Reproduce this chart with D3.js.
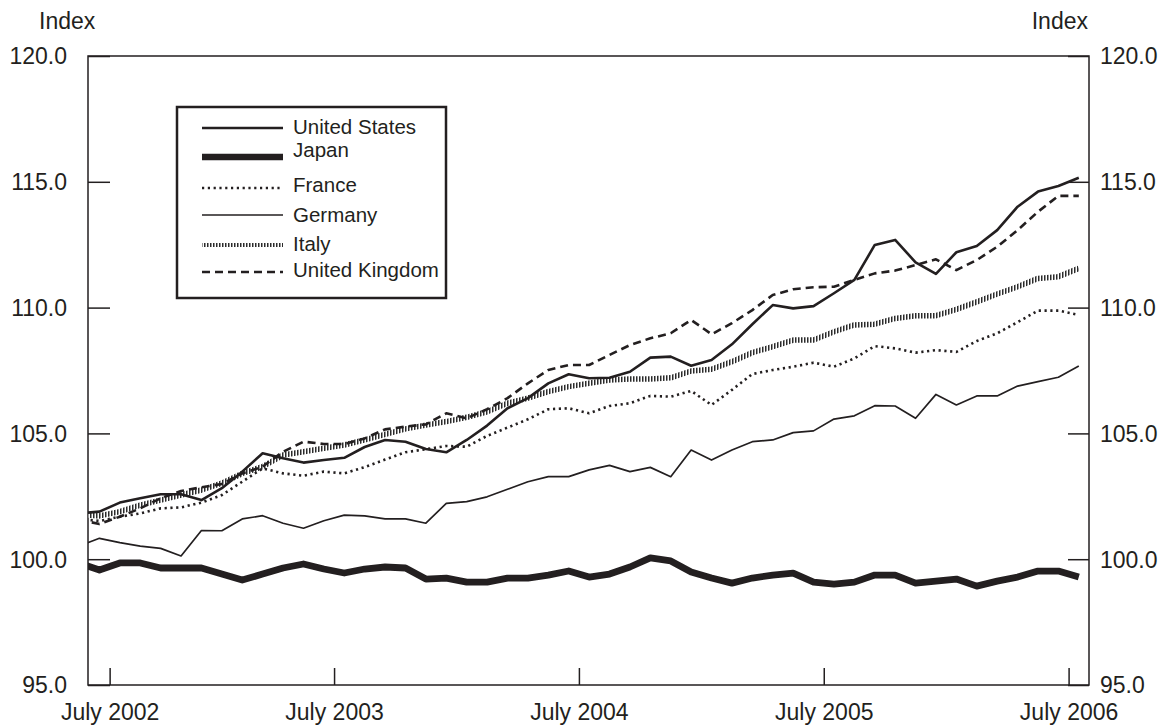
<!DOCTYPE html>
<html>
<head>
<meta charset="utf-8">
<script src="https://cdn.jsdelivr.net/npm/d3@7"></script>
<style>
  html, body { margin: 0; padding: 0; background: #fff; }
  svg { display: block; }
  text { font-family: "Liberation Sans", Arial, Helvetica, sans-serif; fill: #231f20; }
</style>
</head>
<body>
<svg id="chart" width="1164" height="725"></svg>
<script>
// ---------------- DATA ----------------
const months = [
  "2002-06","2002-07","2002-08","2002-09","2002-10","2002-11","2002-12",
  "2003-01","2003-02","2003-03","2003-04","2003-05","2003-06","2003-07","2003-08","2003-09","2003-10","2003-11","2003-12",
  "2004-01","2004-02","2004-03","2004-04","2004-05","2004-06","2004-07","2004-08","2004-09","2004-10","2004-11","2004-12",
  "2005-01","2005-02","2005-03","2005-04","2005-05","2005-06","2005-07","2005-08","2005-09","2005-10","2005-11","2005-12",
  "2006-01","2006-02","2006-03","2006-04","2006-05","2006-06","2006-07"
];
const seriesNames = ["United States","Japan","France","Germany","Italy","United Kingdom"];

const unitedStates = [101.82,101.89,102.25,102.42,102.58,102.58,102.35,102.82,103.48,104.21,104.01,103.84,103.94,104.03,104.46,104.74,104.67,104.38,104.25,104.74,105.31,106.00,106.40,106.99,107.35,107.19,107.21,107.45,108.01,108.05,107.69,107.92,108.54,109.34,110.10,109.97,110.06,110.57,111.10,112.49,112.69,111.80,111.34,112.20,112.45,113.08,114.01,114.61,114.83,115.16];
const japan = [99.85,99.57,99.85,99.85,99.65,99.65,99.65,99.41,99.17,99.41,99.65,99.81,99.61,99.45,99.61,99.69,99.65,99.21,99.25,99.09,99.09,99.25,99.25,99.37,99.53,99.29,99.41,99.69,100.05,99.93,99.49,99.25,99.05,99.25,99.37,99.45,99.09,99.01,99.09,99.37,99.37,99.05,99.13,99.21,98.93,99.13,99.29,99.53,99.53,99.29];
const france = [101.60,101.52,101.69,101.82,102.02,102.06,102.25,102.55,103.08,103.61,103.41,103.32,103.48,103.41,103.66,103.96,104.25,104.37,104.50,104.47,104.90,105.23,105.56,105.96,106.00,105.80,106.09,106.20,106.49,106.46,106.69,106.13,106.73,107.36,107.52,107.65,107.81,107.65,107.98,108.47,108.38,108.21,108.31,108.24,108.67,108.98,109.42,109.88,109.88,109.71];
const germany = [100.52,100.83,100.66,100.52,100.43,100.13,101.14,101.13,101.60,101.73,101.43,101.23,101.53,101.75,101.72,101.60,101.60,101.43,102.22,102.29,102.48,102.78,103.08,103.28,103.28,103.55,103.73,103.48,103.65,103.28,104.34,103.94,104.34,104.67,104.74,105.03,105.10,105.57,105.70,106.10,106.09,105.60,106.55,106.13,106.49,106.49,106.88,107.06,107.23,107.68];
const italy = [101.78,101.72,101.89,102.15,102.35,102.55,102.75,103.02,103.41,103.68,104.14,104.27,104.41,104.54,104.74,104.96,105.18,105.33,105.47,105.64,105.86,106.20,106.40,106.66,106.86,106.99,107.12,107.16,107.16,107.21,107.48,107.55,107.85,108.21,108.45,108.71,108.71,109.04,109.31,109.34,109.57,109.68,109.68,109.93,110.23,110.54,110.83,111.16,111.23,111.56];
const unitedKingdom = [101.57,101.40,101.69,102.02,102.42,102.71,102.86,102.99,103.41,103.68,104.27,104.67,104.58,104.58,104.80,105.16,105.27,105.36,105.80,105.60,105.96,106.40,106.99,107.52,107.72,107.72,108.12,108.51,108.78,108.98,109.51,108.94,109.38,109.90,110.50,110.73,110.81,110.83,111.10,111.36,111.47,111.69,111.92,111.49,111.89,112.42,113.08,113.81,114.44,114.44];

const yTicks = [95, 100, 105, 110, 115, 120];
const xTickAfterMonth = ["2002-07","2003-06","2004-06","2005-06","2006-06"];
const xTickLabels = ["July 2002","July 2003","July 2004","July 2005","July 2006"];
const axisTitle = "Index";

// ---------------- STYLES / LAYOUT ----------------
const styles = {
  "United States":  { width: 2.6, dash: null, color: "#231f20" },
  "Japan":          { width: 6.8, dash: null, color: "#231f20" },
  "France":         { width: 2.6, dash: "2.2 3.6", color: "#231f20" },
  "Germany":        { width: 1.7, dash: null, color: "#231f20" },
  "Italy":          { width: 5.5, dash: null, color: "url(#italyStripes)" },
  "United Kingdom": { width: 2.6, dash: "8 5", color: "#231f20" }
};
const seriesValues = {
  "United States": unitedStates, "Japan": japan, "France": france,
  "Germany": germany, "Italy": italy, "United Kingdom": unitedKingdom
};
const drawOrder = ["Italy","Germany","France","United Kingdom","United States","Japan"];

const L = 88, R = 1089, T = 56, B = 685;
const svg = d3.select("#chart");

const x = d3.scaleLinear().domain([0.44, 49.5]).range([L, R]);
const y = d3.scaleLinear().domain([95, 120]).range([B, T]);
const mIdx = m => months.indexOf(m);

const defs = svg.append("defs");
defs.append("clipPath").attr("id", "plotclip")
  .append("rect").attr("x", L).attr("y", T).attr("width", R - L).attr("height", B - T);
const pat = defs.append("pattern").attr("id", "italyStripes")
  .attr("patternUnits", "userSpaceOnUse").attr("width", 3).attr("height", 20);
pat.append("rect").attr("x", 0).attr("y", 0).attr("width", 3).attr("height", 20).attr("fill", "#ffffff");
pat.append("rect").attr("x", 0).attr("y", 0).attr("width", 1.5).attr("height", 20).attr("fill", "#2b2b2b");

// frame
svg.append("rect").attr("x", L).attr("y", T).attr("width", R - L).attr("height", B - T)
  .attr("fill", "none").attr("stroke", "#231f20").attr("stroke-width", 1.5);

// y ticks (inward, both sides)
const fs = 23;
const yAxisL = d3.axisLeft(y).tickValues(yTicks).tickSizeInner(-22).tickSizeOuter(0).tickFormat(d3.format(".1f")).tickPadding(21);
const yAxisR = d3.axisRight(y).tickValues(yTicks).tickSizeInner(-21).tickSizeOuter(0).tickFormat(d3.format(".1f")).tickPadding(11);
const gL = svg.append("g").attr("transform", `translate(${L},0)`).call(yAxisL);
const gR = svg.append("g").attr("transform", `translate(${R},0)`).call(yAxisR);
const xAxis = d3.axisBottom(x)
  .tickValues(xTickAfterMonth.map(m => mIdx(m) + 0.5))
  .tickFormat((d, i) => xTickLabels[i])
  .tickSizeInner(-17).tickSizeOuter(0).tickPadding(19);
const gX = svg.append("g").attr("transform", `translate(0,${B})`).call(xAxis);

[gL, gR, gX].forEach(g => {
  g.select(".domain").remove();
  g.selectAll(".tick line").attr("stroke", "#231f20").attr("stroke-width", 1.5);
  g.selectAll(".tick text").attr("font-size", fs).attr("fill", "#231f20")
   .attr("font-family", '"Liberation Sans", Arial, sans-serif');
});
gL.selectAll(".tick text").attr("dy", "0.34em");
gR.selectAll(".tick text").attr("dy", "0.34em");
gX.selectAll(".tick text").attr("dy", "0.71em");

svg.append("text").attr("x", 39).attr("y", 29).attr("font-size", fs).text(axisTitle);
svg.append("text").attr("x", 1088).attr("y", 29).attr("font-size", fs).attr("text-anchor", "end").text(axisTitle);

// lines
const line = d3.line().x((d, i) => x(i)).y(d => y(d));
const plot = svg.append("g").attr("clip-path", "url(#plotclip)");
drawOrder.forEach(name => {
  const s = styles[name];
  plot.append("path")
    .datum(seriesValues[name])
    .attr("d", line)
    .attr("fill", "none")
    .attr("stroke", s.color)
    .attr("stroke-width", s.width)
    .attr("stroke-dasharray", s.dash)
    .attr("stroke-linejoin", "round");
});

// legend
const legendBox = { x: 177, y: 107, w: 269, h: 191 };
const legendRowY = [128, 157, 188, 215, 245, 272];
const legendTextDy = [6, 0, 4, 7, 6, 5];
const lg = svg.append("g");
lg.append("rect").attr("x", legendBox.x).attr("y", legendBox.y)
  .attr("width", legendBox.w).attr("height", legendBox.h)
  .attr("fill", "#fff").attr("stroke", "#231f20").attr("stroke-width", 2.5);
seriesNames.forEach((name, i) => {
  const s = styles[name];
  const yy = legendRowY[i];
  lg.append("line").attr("x1", 202).attr("x2", 283).attr("y1", yy).attr("y2", yy)
    .attr("stroke", s.color).attr("stroke-width", name === "Italy" ? 4 : (name === "Japan" ? 6.5 : s.width))
    .attr("stroke-dasharray", s.dash);
  lg.append("text").attr("x", 293).attr("y", yy + legendTextDy[i])
    .attr("font-size", 20.5).text(name);
});
</script>
</body>
</html>
